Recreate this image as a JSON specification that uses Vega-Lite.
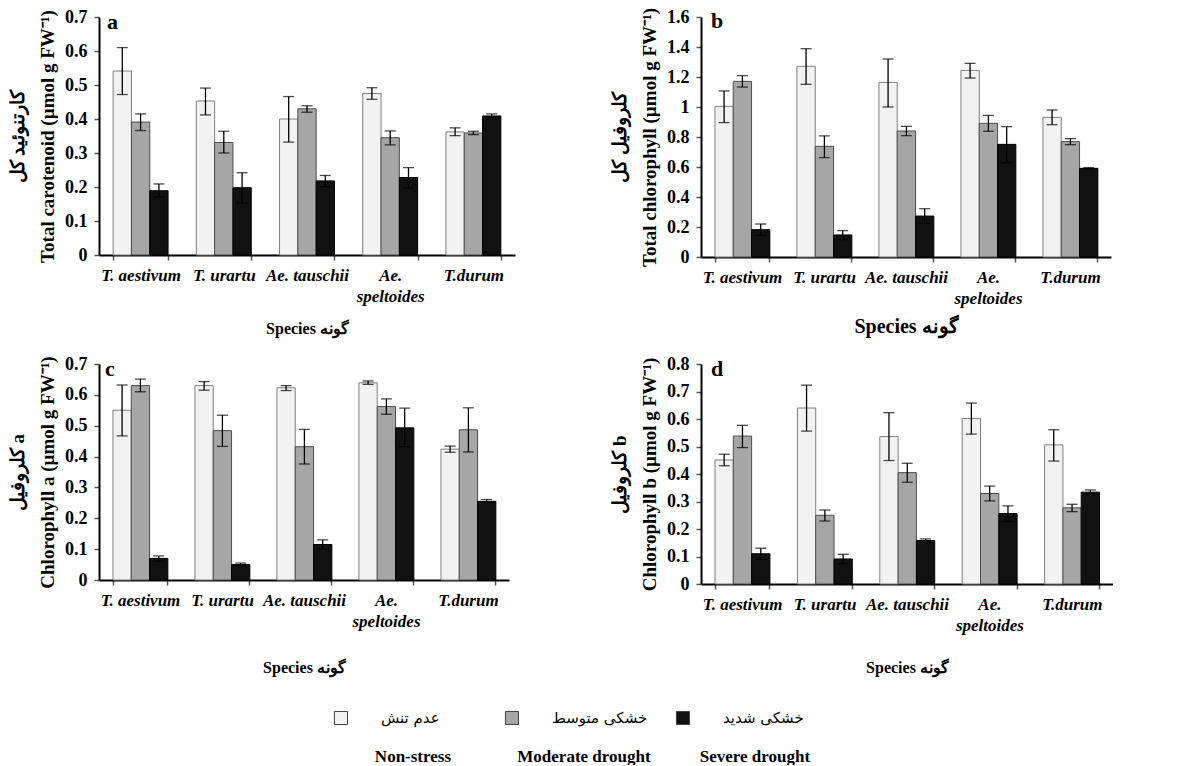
{
  "$schema": "https://vega.github.io/schema/vega-lite/v6.json",
  "background": "white",
  "padding": {"left": 8, "top": 7, "right": 0, "bottom": 0},
  "config": {
    "font": "Liberation Serif",
    "view": {"stroke": null},
    "axis": {
      "labelFont": "Liberation Serif",
      "titleFont": "Liberation Serif",
      "labelColor": "black",
      "titleColor": "black",
      "domainColor": "black",
      "domainWidth": 2,
      "tickColor": "#555555",
      "tickWidth": 1.5,
      "tickSize": 5,
      "grid": false,
      "labelFontWeight": "bold",
      "titleFontWeight": "bold"
    },
    "axisX": {
      "labelAngle": 0,
      "labelFontStyle": "italic",
      "labelFontSize": 17,
      "labelPadding": 7,
      "labelLineHeight": 21,
      "labelOverlap": false,
      "tickBand": "extent",
      "titleFontSize": 16,
      "titlePadding": 16
    },
    "axisY": {
      "labelFontSize": 18,
      "labelPadding": 7,
      "labelOverlap": false,
      "format": "~g",
      "titleFontSize": 19,
      "titleLineHeight": 30,
      "titlePadding": 7
    },
    "title": {"font": "Liberation Serif", "fontWeight": "bold", "fontSize": 22, "color": "black"}
  },
  "datasets": {
    "pigments": [
      {"panel": "a", "species": "T. aestivum", "treatment": "Non-stress", "value": 0.541, "lo": 0.472, "hi": 0.61},
      {"panel": "a", "species": "T. aestivum", "treatment": "Moderate drought", "value": 0.391, "lo": 0.366, "hi": 0.415},
      {"panel": "a", "species": "T. aestivum", "treatment": "Severe drought", "value": 0.189, "lo": 0.17, "hi": 0.209},
      {"panel": "a", "species": "T. urartu", "treatment": "Non-stress", "value": 0.453, "lo": 0.412, "hi": 0.491},
      {"panel": "a", "species": "T. urartu", "treatment": "Moderate drought", "value": 0.331, "lo": 0.3, "hi": 0.364},
      {"panel": "a", "species": "T. urartu", "treatment": "Severe drought", "value": 0.198, "lo": 0.153, "hi": 0.242},
      {"panel": "a", "species": "Ae. tauschii", "treatment": "Non-stress", "value": 0.4, "lo": 0.332, "hi": 0.466},
      {"panel": "a", "species": "Ae. tauschii", "treatment": "Moderate drought", "value": 0.43, "lo": 0.42, "hi": 0.439},
      {"panel": "a", "species": "Ae. tauschii", "treatment": "Severe drought", "value": 0.218, "lo": 0.201, "hi": 0.234},
      {"panel": "a", "species": "Ae. speltoides", "treatment": "Non-stress", "value": 0.475, "lo": 0.458, "hi": 0.492},
      {"panel": "a", "species": "Ae. speltoides", "treatment": "Moderate drought", "value": 0.345, "lo": 0.324, "hi": 0.365},
      {"panel": "a", "species": "Ae. speltoides", "treatment": "Severe drought", "value": 0.228, "lo": 0.197, "hi": 0.257},
      {"panel": "a", "species": "T.durum", "treatment": "Non-stress", "value": 0.362, "lo": 0.351, "hi": 0.374},
      {"panel": "a", "species": "T.durum", "treatment": "Moderate drought", "value": 0.359, "lo": 0.354, "hi": 0.364},
      {"panel": "a", "species": "T.durum", "treatment": "Severe drought", "value": 0.409, "lo": 0.404, "hi": 0.415},

      {"panel": "b", "species": "T. aestivum", "treatment": "Non-stress", "value": 1.004, "lo": 0.896, "hi": 1.107},
      {"panel": "b", "species": "T. aestivum", "treatment": "Moderate drought", "value": 1.171, "lo": 1.133, "hi": 1.209},
      {"panel": "b", "species": "T. aestivum", "treatment": "Severe drought", "value": 0.182, "lo": 0.144, "hi": 0.22},
      {"panel": "b", "species": "T. urartu", "treatment": "Non-stress", "value": 1.271, "lo": 1.151, "hi": 1.389},
      {"panel": "b", "species": "T. urartu", "treatment": "Moderate drought", "value": 0.738, "lo": 0.662, "hi": 0.807},
      {"panel": "b", "species": "T. urartu", "treatment": "Severe drought", "value": 0.147, "lo": 0.116, "hi": 0.176},
      {"panel": "b", "species": "Ae. tauschii", "treatment": "Non-stress", "value": 1.164, "lo": 1.0, "hi": 1.32},
      {"panel": "b", "species": "Ae. tauschii", "treatment": "Moderate drought", "value": 0.84, "lo": 0.809, "hi": 0.871},
      {"panel": "b", "species": "Ae. tauschii", "treatment": "Severe drought", "value": 0.273, "lo": 0.224, "hi": 0.322},
      {"panel": "b", "species": "Ae. speltoides", "treatment": "Non-stress", "value": 1.244, "lo": 1.193, "hi": 1.291},
      {"panel": "b", "species": "Ae. speltoides", "treatment": "Moderate drought", "value": 0.891, "lo": 0.838, "hi": 0.944},
      {"panel": "b", "species": "Ae. speltoides", "treatment": "Severe drought", "value": 0.751, "lo": 0.629, "hi": 0.869},
      {"panel": "b", "species": "T.durum", "treatment": "Non-stress", "value": 0.931, "lo": 0.882, "hi": 0.98},
      {"panel": "b", "species": "T.durum", "treatment": "Moderate drought", "value": 0.769, "lo": 0.749, "hi": 0.789},
      {"panel": "b", "species": "T.durum", "treatment": "Severe drought", "value": 0.591, "lo": 0.587, "hi": 0.596},

      {"panel": "c", "species": "T. aestivum", "treatment": "Non-stress", "value": 0.55, "lo": 0.467, "hi": 0.632},
      {"panel": "c", "species": "T. aestivum", "treatment": "Moderate drought", "value": 0.63, "lo": 0.61, "hi": 0.651},
      {"panel": "c", "species": "T. aestivum", "treatment": "Severe drought", "value": 0.07, "lo": 0.061, "hi": 0.078},
      {"panel": "c", "species": "T. urartu", "treatment": "Non-stress", "value": 0.63, "lo": 0.615, "hi": 0.643},
      {"panel": "c", "species": "T. urartu", "treatment": "Moderate drought", "value": 0.484, "lo": 0.433, "hi": 0.534},
      {"panel": "c", "species": "T. urartu", "treatment": "Severe drought", "value": 0.05, "lo": 0.045, "hi": 0.055},
      {"panel": "c", "species": "Ae. tauschii", "treatment": "Non-stress", "value": 0.623, "lo": 0.614, "hi": 0.63},
      {"panel": "c", "species": "Ae. tauschii", "treatment": "Moderate drought", "value": 0.432, "lo": 0.376, "hi": 0.488},
      {"panel": "c", "species": "Ae. tauschii", "treatment": "Severe drought", "value": 0.115, "lo": 0.1, "hi": 0.13},
      {"panel": "c", "species": "Ae. speltoides", "treatment": "Non-stress", "value": 0.639, "lo": 0.634, "hi": 0.645},
      {"panel": "c", "species": "Ae. speltoides", "treatment": "Moderate drought", "value": 0.562, "lo": 0.537, "hi": 0.587},
      {"panel": "c", "species": "Ae. speltoides", "treatment": "Severe drought", "value": 0.493, "lo": 0.432, "hi": 0.557},
      {"panel": "c", "species": "T.durum", "treatment": "Non-stress", "value": 0.424, "lo": 0.414, "hi": 0.434},
      {"panel": "c", "species": "T.durum", "treatment": "Moderate drought", "value": 0.487, "lo": 0.415, "hi": 0.558},
      {"panel": "c", "species": "T.durum", "treatment": "Severe drought", "value": 0.255, "lo": 0.251, "hi": 0.261},

      {"panel": "d", "species": "T. aestivum", "treatment": "Non-stress", "value": 0.451, "lo": 0.43, "hi": 0.472},
      {"panel": "d", "species": "T. aestivum", "treatment": "Moderate drought", "value": 0.538, "lo": 0.496, "hi": 0.577},
      {"panel": "d", "species": "T. aestivum", "treatment": "Severe drought", "value": 0.11, "lo": 0.09, "hi": 0.13},
      {"panel": "d", "species": "T. urartu", "treatment": "Non-stress", "value": 0.64, "lo": 0.556, "hi": 0.723},
      {"panel": "d", "species": "T. urartu", "treatment": "Moderate drought", "value": 0.25, "lo": 0.229, "hi": 0.269},
      {"panel": "d", "species": "T. urartu", "treatment": "Severe drought", "value": 0.091, "lo": 0.074, "hi": 0.108},
      {"panel": "d", "species": "Ae. tauschii", "treatment": "Non-stress", "value": 0.536, "lo": 0.449, "hi": 0.623},
      {"panel": "d", "species": "Ae. tauschii", "treatment": "Moderate drought", "value": 0.405, "lo": 0.37, "hi": 0.439},
      {"panel": "d", "species": "Ae. tauschii", "treatment": "Severe drought", "value": 0.158, "lo": 0.152, "hi": 0.164},
      {"panel": "d", "species": "Ae. speltoides", "treatment": "Non-stress", "value": 0.602, "lo": 0.545, "hi": 0.658},
      {"panel": "d", "species": "Ae. speltoides", "treatment": "Moderate drought", "value": 0.329, "lo": 0.302, "hi": 0.356},
      {"panel": "d", "species": "Ae. speltoides", "treatment": "Severe drought", "value": 0.256, "lo": 0.227, "hi": 0.284},
      {"panel": "d", "species": "T.durum", "treatment": "Non-stress", "value": 0.506, "lo": 0.447, "hi": 0.561},
      {"panel": "d", "species": "T.durum", "treatment": "Moderate drought", "value": 0.277, "lo": 0.263, "hi": 0.29},
      {"panel": "d", "species": "T.durum", "treatment": "Severe drought", "value": 0.334, "lo": 0.326, "hi": 0.342}
    ],
    "legendItems": [
      {"treatment": "Non-stress", "fa": "عدم تنش"},
      {"treatment": "Moderate drought", "fa": "خشکی متوسط"},
      {"treatment": "Severe drought", "fa": "خشکی شدید"}
    ]
  },
  "spacing": 15,
  "vconcat": [
    {
      "columns": 2,
      "spacing": {"row": 19, "column": 95},
      "concat": [
        {
          "width": 416, "height": 238,
          "data": {"name": "pigments"},
          "transform": [{"filter": "datum.panel == 'a'"}],
          "title": {"text": "a", "anchor": "start", "frame": "group", "baseline": "top", "dx": 8, "dy": 30},
          "encoding": {
            "x": {"field": "species", "type": "nominal", "sort": ["T. aestivum", "T. urartu", "Ae. tauschii", "Ae. speltoides", "T.durum"], "scale": {"paddingInner": 0.34, "paddingOuter": 0.17},
              "axis": {"title": "Species  گونه", "labelExpr": "datum.value == 'Ae. speltoides' ? ['Ae.', 'speltoides'] : datum.value"}},
            "xOffset": {"field": "treatment", "type": "nominal", "sort": ["Non-stress", "Moderate drought", "Severe drought"], "scale": {"paddingInner": 0, "paddingOuter": 0}}
          },
          "layer": [
            {"mark": {"type": "bar", "strokeWidth": 1},
             "encoding": {
               "y": {"field": "value", "type": "quantitative", "scale": {"domain": [0, 0.7], "nice": false},
                 "axis": {"values": [0, 0.1, 0.2, 0.3, 0.4, 0.5, 0.6, 0.7], "tickCount": 8, "labelOverlap": false, "title": ["کارتنوئید کل", "Total carotenoid (µmol g FW⁻¹)"]}},
               "fill": {"field": "treatment", "type": "nominal", "scale": {"domain": ["Non-stress", "Moderate drought", "Severe drought"], "range": ["#f2f2f2", "#a6a6a6", "#111111"]}, "legend": null},
               "stroke": {"field": "treatment", "type": "nominal", "scale": {"domain": ["Non-stress", "Moderate drought", "Severe drought"], "range": ["#7f7f7f", "#4d4d4d", "#000000"]}, "legend": null}
             }},
            {"mark": {"type": "rule", "color": "black", "strokeWidth": 1.3},
             "encoding": {"y": {"field": "lo", "type": "quantitative"}, "y2": {"field": "hi"}}},
            {"mark": {"type": "tick", "color": "black", "thickness": 1.3, "size": 11},
             "encoding": {"y": {"field": "lo", "type": "quantitative"}}},
            {"mark": {"type": "tick", "color": "black", "thickness": 1.3, "size": 11},
             "encoding": {"y": {"field": "hi", "type": "quantitative"}}}
          ]
        },
        {
          "width": 410, "height": 240,
          "data": {"name": "pigments"},
          "transform": [{"filter": "datum.panel == 'b'"}],
          "title": {"text": "b", "anchor": "start", "frame": "group", "baseline": "top", "dx": 10, "dy": 30},
          "encoding": {
            "x": {"field": "species", "type": "nominal", "sort": ["T. aestivum", "T. urartu", "Ae. tauschii", "Ae. speltoides", "T.durum"], "scale": {"paddingInner": 0.34, "paddingOuter": 0.17},
              "axis": {"title": "Species  گونه", "titleFontSize": 20, "titlePadding": 10, "labelExpr": "datum.value == 'Ae. speltoides' ? ['Ae.', 'speltoides'] : datum.value"}},
            "xOffset": {"field": "treatment", "type": "nominal", "sort": ["Non-stress", "Moderate drought", "Severe drought"], "scale": {"paddingInner": 0, "paddingOuter": 0}}
          },
          "layer": [
            {"mark": {"type": "bar", "strokeWidth": 1},
             "encoding": {
               "y": {"field": "value", "type": "quantitative", "scale": {"domain": [0, 1.6], "nice": false},
                 "axis": {"values": [0, 0.2, 0.4, 0.6, 0.8, 1, 1.2, 1.4, 1.6], "tickCount": 9, "labelOverlap": false, "title": ["کلروفیل کل", "Total chlorophyll (µmol g FW⁻¹)"]}},
               "fill": {"field": "treatment", "type": "nominal", "scale": {"domain": ["Non-stress", "Moderate drought", "Severe drought"], "range": ["#f2f2f2", "#a6a6a6", "#111111"]}, "legend": null},
               "stroke": {"field": "treatment", "type": "nominal", "scale": {"domain": ["Non-stress", "Moderate drought", "Severe drought"], "range": ["#7f7f7f", "#4d4d4d", "#000000"]}, "legend": null}
             }},
            {"mark": {"type": "rule", "color": "black", "strokeWidth": 1.3},
             "encoding": {"y": {"field": "lo", "type": "quantitative"}, "y2": {"field": "hi"}}},
            {"mark": {"type": "tick", "color": "black", "thickness": 1.3, "size": 11},
             "encoding": {"y": {"field": "lo", "type": "quantitative"}}},
            {"mark": {"type": "tick", "color": "black", "thickness": 1.3, "size": 11},
             "encoding": {"y": {"field": "hi", "type": "quantitative"}}}
          ]
        },
        {
          "width": 410, "height": 216,
          "data": {"name": "pigments"},
          "transform": [{"filter": "datum.panel == 'c'"}],
          "title": {"text": "c", "anchor": "start", "frame": "group", "baseline": "top", "dx": 6, "dy": 30},
          "encoding": {
            "x": {"field": "species", "type": "nominal", "sort": ["T. aestivum", "T. urartu", "Ae. tauschii", "Ae. speltoides", "T.durum"], "scale": {"paddingInner": 0.34, "paddingOuter": 0.17},
              "axis": {"title": "Species  گونه", "titlePadding": 30, "labelExpr": "datum.value == 'Ae. speltoides' ? ['Ae.', 'speltoides'] : datum.value"}},
            "xOffset": {"field": "treatment", "type": "nominal", "sort": ["Non-stress", "Moderate drought", "Severe drought"], "scale": {"paddingInner": 0, "paddingOuter": 0}}
          },
          "layer": [
            {"mark": {"type": "bar", "strokeWidth": 1},
             "encoding": {
               "y": {"field": "value", "type": "quantitative", "scale": {"domain": [0, 0.7], "nice": false},
                 "axis": {"values": [0, 0.1, 0.2, 0.3, 0.4, 0.5, 0.6, 0.7], "tickCount": 8, "labelOverlap": false, "title": ["کلروفیل a", "Chlorophyll a (µmol g FW⁻¹)"]}},
               "fill": {"field": "treatment", "type": "nominal", "scale": {"domain": ["Non-stress", "Moderate drought", "Severe drought"], "range": ["#f2f2f2", "#a6a6a6", "#111111"]}, "legend": null},
               "stroke": {"field": "treatment", "type": "nominal", "scale": {"domain": ["Non-stress", "Moderate drought", "Severe drought"], "range": ["#7f7f7f", "#4d4d4d", "#000000"]}, "legend": null}
             }},
            {"mark": {"type": "rule", "color": "black", "strokeWidth": 1.3},
             "encoding": {"y": {"field": "lo", "type": "quantitative"}, "y2": {"field": "hi"}}},
            {"mark": {"type": "tick", "color": "black", "thickness": 1.3, "size": 11},
             "encoding": {"y": {"field": "lo", "type": "quantitative"}}},
            {"mark": {"type": "tick", "color": "black", "thickness": 1.3, "size": 11},
             "encoding": {"y": {"field": "hi", "type": "quantitative"}}}
          ]
        },
        {
          "width": 412, "height": 220,
          "data": {"name": "pigments"},
          "transform": [{"filter": "datum.panel == 'd'"}],
          "title": {"text": "d", "anchor": "start", "frame": "group", "baseline": "top", "dx": 10, "dy": 30},
          "encoding": {
            "x": {"field": "species", "type": "nominal", "sort": ["T. aestivum", "T. urartu", "Ae. tauschii", "Ae. speltoides", "T.durum"], "scale": {"paddingInner": 0.34, "paddingOuter": 0.17},
              "axis": {"title": "Species  گونه", "titlePadding": 26, "labelExpr": "datum.value == 'Ae. speltoides' ? ['Ae.', 'speltoides'] : datum.value"}},
            "xOffset": {"field": "treatment", "type": "nominal", "sort": ["Non-stress", "Moderate drought", "Severe drought"], "scale": {"paddingInner": 0, "paddingOuter": 0}}
          },
          "layer": [
            {"mark": {"type": "bar", "strokeWidth": 1},
             "encoding": {
               "y": {"field": "value", "type": "quantitative", "scale": {"domain": [0, 0.8], "nice": false},
                 "axis": {"values": [0, 0.1, 0.2, 0.3, 0.4, 0.5, 0.6, 0.7, 0.8], "tickCount": 9, "labelOverlap": false, "title": ["کلروفیل b", "Chlorophyll b (µmol g FW⁻¹)"]}},
               "fill": {"field": "treatment", "type": "nominal", "scale": {"domain": ["Non-stress", "Moderate drought", "Severe drought"], "range": ["#f2f2f2", "#a6a6a6", "#111111"]}, "legend": null},
               "stroke": {"field": "treatment", "type": "nominal", "scale": {"domain": ["Non-stress", "Moderate drought", "Severe drought"], "range": ["#7f7f7f", "#4d4d4d", "#000000"]}, "legend": null}
             }},
            {"mark": {"type": "rule", "color": "black", "strokeWidth": 1.3},
             "encoding": {"y": {"field": "lo", "type": "quantitative"}, "y2": {"field": "hi"}}},
            {"mark": {"type": "tick", "color": "black", "thickness": 1.3, "size": 11},
             "encoding": {"y": {"field": "lo", "type": "quantitative"}}},
            {"mark": {"type": "tick", "color": "black", "thickness": 1.3, "size": 11},
             "encoding": {"y": {"field": "hi", "type": "quantitative"}}}
          ]
        }
      ]
    },
    {
      "width": 684, "height": 60,
      "data": {"name": "legendItems"},
      "encoding": {
        "x": {"field": "treatment", "type": "nominal", "sort": ["Non-stress", "Moderate drought", "Severe drought"], "scale": {"type": "point", "padding": 1, "align": 0.918}, "axis": null}
      },
      "layer": [
        {"mark": {"type": "square", "size": 170, "filled": true, "stroke": "#404040", "strokeWidth": 1, "opacity": 1, "xOffset": -72, "yOffset": -2},
         "encoding": {"fill": {"field": "treatment", "type": "nominal", "scale": {"domain": ["Non-stress", "Moderate drought", "Severe drought"], "range": ["#f2f2f2", "#a6a6a6", "#404040"]}, "legend": null}}},
        {"mark": {"type": "text", "align": "left", "dx": -32, "dy": -2, "fontSize": 15, "font": "DejaVu Sans", "color": "black"},
         "encoding": {"text": {"field": "fa"}}},
        {"mark": {"type": "text", "align": "center", "dy": 37, "fontSize": 17, "fontWeight": "bold", "font": "Liberation Serif", "color": "black"},
         "encoding": {"text": {"field": "treatment"}}}
      ]
    }
  ]
}
